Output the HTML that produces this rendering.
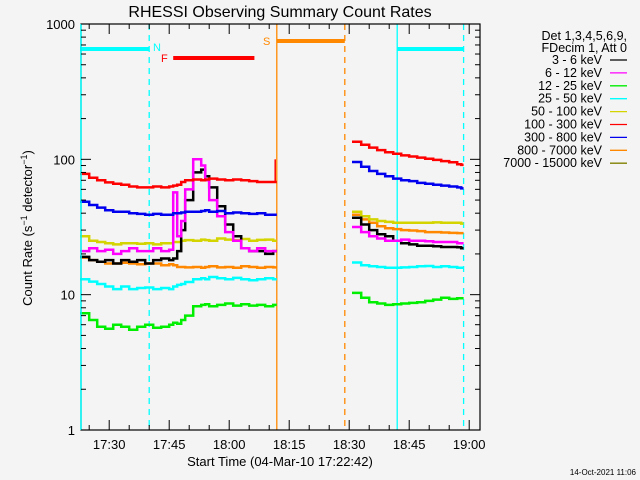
<!DOCTYPE html>
<html><head><meta charset="utf-8"><style>
html,body{margin:0;padding:0;background:#f4f4f4;}
svg{display:block;font-family:"Liberation Sans",sans-serif;}
</style></head><body>
<svg id="chart" width="640" height="480" viewBox="0 0 640 480">
<rect width="640" height="480" fill="#f4f4f4"/>
<text x="280" y="17" font-size="16" text-anchor="middle" fill="#000">RHESSI Observing Summary Count Rates</text>
<g id="marks"></g>
<g id="axes"></g>
<text transform="translate(32,228) rotate(-90)" font-size="13" text-anchor="middle">Count Rate (s<tspan dy="-5" font-size="9">−1</tspan><tspan dy="5"> detector</tspan><tspan dy="-5" font-size="9">−1</tspan><tspan dy="5">)</tspan></text>
<text x="280" y="466" font-size="13" text-anchor="middle">Start Time (04-Mar-10 17:22:42)</text>
<g id="legend" font-size="12.5" text-anchor="end"></g>
<text x="636" y="475" font-size="8" text-anchor="end">14-Oct-2021 11:06</text>
</svg>
<script>
// times in minutes after 17:00
const seg1Times = [23,25,27,29,31,33,35,37,39,41,43,45,46,47,48,49,51,53,54,55,57,59,61,63,65,67,69,71];
const seg2Times = [91,93,95,97,99,101,103,105,107,109,111,113,115,117,118];
const seriesNames = ["3 - 6 keV","6 - 12 keV","12 - 25 keV","25 - 50 keV","50 - 100 keV","100 - 300 keV","300 - 800 keV","800 - 7000 keV","7000 - 15000 keV"];
const seriesColors = ["#000000","#ff00ff","#00ee00","#00ffff","#d4d400","#ff0000","#0000ee","#ff8800","#808000"];
const s1_3_6 = [19,18,17.5,18,17,18,17.5,18,17,18,18.5,18,18.5,21,30,50,80,84,75,62,45,33,27,22,21,21,20,21];
const s1_6_12 = [21,22,21,21.5,20,21,22,21,21,22,21,21.5,57,27,35,60,100,90,70,50,38,29,25,22,21,22,21,21];
const s1_12_25 = [7.3,6.5,5.8,5.6,6,5.8,5.5,5.8,6,5.7,5.8,6,6.2,6.1,6.5,7,8.2,8.4,8.5,8.2,8.4,8.6,8.3,8.5,8.3,8.4,8.2,8.4];
const s1_25_50 = [13,12.5,12,11.5,11,11.5,11,11.2,11.3,11,11.2,11,11.5,11.8,12,12.4,13,13.2,13,13.5,13.2,13,13.3,13,12.8,13,13.2,13];
const s1_50_100 = [27,25,24.5,24,23.5,24,24,23.8,24,23.5,24,24,24.5,24.5,25,25.3,25,25.5,25.3,25,26,25.5,25.3,25.8,25,25.4,25.5,25];
const s1_100_300 = [78,73,70,67.5,66,65,63,62,62,63,62,63,64,65,68,70,71,70,71,72,71,70,71,70,69,68,68,68];
const s1_300_800 = [48.6,46,44,42,41,41,40,39.5,39,39.5,39,39,40,40,40.5,41,41,41.5,42,41,41.5,40,40.5,40,39.5,40,39,39];
const s1_800_7000 = [18.8,18,17.5,17,17,17.2,17,16.8,17,17,16.5,16.8,16.5,16,16,15.9,16,15.8,16,16.2,15.9,16,15.8,16.2,16,15.8,16,15.9];
const s2_3_6 = [37,33,30,28,27,25,24,23.5,23,23,22.8,22.5,22.5,22.4,22];
const s2_6_12 = [31.6,29,27,26,25,25,25.5,25,25,24.8,24.5,24.5,24.5,24,24];
const s2_12_25 = [10.3,9.5,8.8,8.6,8.4,8.5,8.6,8.7,8.8,9,9.2,9.5,9.3,9.4,9.4];
const s2_25_50 = [17.3,16.5,16.2,16,15.8,15.8,15.9,16,16.2,16.3,16,16.2,16,15.8,15.8];
const s2_50_100 = [41,38,36,35,34.5,34,34,34,34,34,34.2,34,34,34,33.5];
const s2_100_300 = [135,128,122,117,113,110,107,105,103,101,99,97,95,92,91];
const s2_300_800 = [95.5,88,82,78,75,72,70,69,67,66,65,64,63,62,61];
const s2_800_7000 = [39,36,34,32,31,30.5,30,29.8,29.5,29,29,28.8,28.6,28.5,28.5];
const yTickLabels = ["1","10","100","1000"];
const xTickLabels = ["17:30","17:45","18:00","18:15","18:30","18:45","19:00"];
const xTickTimes = [30,45,60,75,90,105,120];

const L=81,R=480,T=24,B=430;
const t0 = 22.7;
function X(t){return 80 + (t - t0) * 4;}
function Y(v){return B - (B-T) * Math.log10(v) / 3;}
const NS="http://www.w3.org/2000/svg";
function mk(tag,attrs,parent){const e=document.createElementNS(NS,tag);for(const k in attrs)e.setAttribute(k,attrs[k]);parent.appendChild(e);return e;}
const marks=document.getElementById('marks'), axes=document.getElementById('axes'), legend=document.getElementById('legend');

const vlines=[[40,"#00ffff","6,5"],[71.9,"#ff8800",""],[88.9,"#ff8800","6,5"],[102,"#00ffff",""],[118.6,"#00ffff","6,5"]];
vlines.forEach(v=>{
  const l=mk('line',{x1:X(v[0]),x2:X(v[0]),y1:T,y2:B,stroke:v[1],'stroke-width':1.3,'stroke-dasharray':v[2]},marks);
  
  
});
const bars=[[22.7,40,49,"#00ffff"],[102,118.6,49,"#00ffff"],[46,66.3,58,"#ff0000"],[71.9,88.9,41,"#ff8800"]];
bars.forEach(b=>{
  const l=mk('line',{x1:X(b[0]),x2:X(b[1]),y1:b[2],y2:b[2],stroke:b[3],'stroke-width':4},marks);
  
  
});
[["N",153,51,"#00ffff"],["F",161,62,"#ff0000"],["S",263,45,"#ff8800"]].forEach(t=>{
  const e=mk('text',{x:t[1],y:t[2],fill:t[3],'font-size':11},marks);e.textContent=t[0];
  
  
});

const seg1=[s1_3_6,s1_6_12,s1_12_25,s1_25_50,s1_50_100,s1_100_300,s1_300_800,s1_800_7000,null];
const seg2=[s2_3_6,s2_6_12,s2_12_25,s2_25_50,s2_50_100,s2_100_300,s2_300_800,s2_800_7000,null];
function stepPath(times,vals,end){
  let d="";
  for(let i=0;i<vals.length;i++){
    const xs=i===0?X(Math.max(t0,times[0]-0.3)):X(times[i]);
    const x1=X(i<vals.length-1?times[i+1]:end);
    const y=Y(vals[i]);
    d+=(i===0?"M":"L")+xs.toFixed(1)+","+y.toFixed(1)+"L"+x1.toFixed(1)+","+y.toFixed(1);
  }
  return d;
}
const drawOrder=[3,2,7,4,0,1,6,5];
drawOrder.forEach(i=>{
  if(seg1[i]){const p=mk('path',{d:stepPath(seg1Times,seg1[i],71.9),fill:'none',stroke:seriesColors[i],'stroke-width':2.5},marks);
    
    }
  if(seg2[i]){const p=mk('path',{d:stepPath(seg2Times,seg2[i],118.6),fill:'none',stroke:seriesColors[i],'stroke-width':2.5},marks);
    
    }
});
const sp=mk('line',{x1:X(71.5),x2:X(71.5),y1:Y(68),y2:Y(100),stroke:'#ff0000','stroke-width':1.5},marks);



const box=mk('rect',{x:L,y:T,width:R-L,height:B-T,fill:'none',stroke:'#000','stroke-width':1.2},axes);


const startLine=mk('line',{x1:81,x2:81,y1:T,y2:B,stroke:'#00ffff','stroke-width':1.5},axes);


for(let d=0;d<3;d++){for(let m=1;m<=9;m++){
  const y=Y(m*Math.pow(10,d));const len=m===1?10:5;
  mk('line',{x1:L,x2:L+len,y1:y,y2:y,stroke:'#000'},axes);
  mk('line',{x1:R,x2:R-len,y1:y,y2:y,stroke:'#000'},axes);
}}
mk('line',{x1:L,x2:L+10,y1:T,y2:T,stroke:'#000'},axes);
yTickLabels.forEach((s,i)=>{
  const e=mk('text',{x:75,y:Y(Math.pow(10,i))+5,'font-size':13,'text-anchor':'end'},axes);e.textContent=s;
  
  
});
for(let t=25;t<=120;t+=5){
  const x=X(t);const len=(t%15===0)?10:5;
  mk('line',{x1:x,x2:x,y1:B,y2:B-len,stroke:'#000'},axes);
  mk('line',{x1:x,x2:x,y1:T,y2:T+len,stroke:'#000'},axes);
}
xTickLabels.forEach((s,i)=>{
  const e=mk('text',{x:X(xTickTimes[i]),y:449,'font-size':13,'text-anchor':'middle'},axes);e.textContent=s;
  
  
});

const h1=mk('text',{x:627,y:40},legend);h1.textContent="Det 1,3,4,5,6,9,";


const h2=mk('text',{x:627,y:52},legend);h2.textContent="FDecim 1, Att 0";


seriesNames.forEach((n,i)=>{
  const y=60+i*12.9;
  const t=mk('text',{x:602,y:y+4},legend);t.textContent=n;
  
  
  const l=mk('line',{x1:610,x2:627,y1:y,y2:y,stroke:seriesColors[i],'stroke-width':1.3},legend);
  
  
});
</script>
</body></html>
